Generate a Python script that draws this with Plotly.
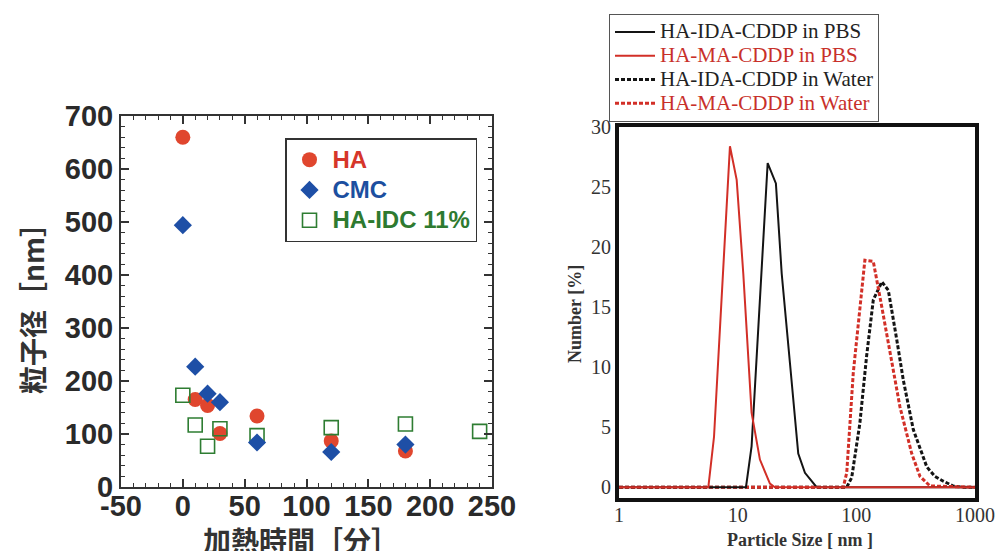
import plotly.graph_objects as go

# ---------------- Left panel data ----------------
time_ha = [0, 10, 20, 30, 60, 120, 180]
size_ha = [660, 165, 154, 101, 134, 87, 68]
time_cmc = [0, 10, 20, 30, 60, 120, 180]
size_cmc = [494, 227, 176, 160, 84, 66, 80]
time_idc = [0, 10, 20, 30, 60, 120, 180, 240]
size_idc = [173, 117, 77, 110, 97, 112, 119, 105]

left_xticks = [-50, 0, 50, 100, 150, 200, 250]
left_xlabels = ["-50", "0", "50", "100", "150", "200", "250"]
left_yticks = [0, 100, 200, 300, 400, 500, 600, 700]

# ---------------- Right panel data ----------------
ida_pbs_x = [1, 11.75, 13.1, 17.9, 21.0, 23.5, 27.6, 32.4, 36.9, 46.3, 1000]
ida_pbs_y = [0, 0, 3.4, 27.0, 25.3, 17.8, 10.3, 2.8, 1.2, 0, 0]
ma_pbs_x = [1, 5.66, 6.32, 8.61, 9.81, 11.15, 13.1, 15.4, 18.7, 20.6, 1000]
ma_pbs_y = [0, 0, 4.2, 28.4, 25.6, 17.8, 6.2, 2.3, 0.3, 0, 0]
ida_water_x = [1, 83, 91.4, 107, 122, 139, 164, 186, 219, 249, 302, 392, 460, 541, 656, 797, 1000]
ida_water_y = [0, 0, 0.8, 5.3, 10.9, 15.6, 17.1, 16.4, 12.3, 8.9, 4.8, 1.7, 0.9, 0.5, 0.1, 0, 0]
ma_water_x = [1, 77.6, 83, 94.2, 118, 139, 164, 192, 233, 293, 344, 418, 1000]
ma_water_y = [0, 0, 1.2, 9.5, 18.9, 18.8, 15.0, 11.4, 6.7, 2.8, 0.9, 0.1, 0]

right_xticks = [1, 10, 100, 1000]
right_yticks = [0, 5, 10, 15, 20, 25, 30]

RED_PT = "#e0462e"
BLUE_PT = "#1e4fa6"
GREEN_PT = "#2e7d32"
RED_LN = "#d22f27"
BLACK_LN = "#141414"

def styled(t, size, color=None):
    st = "font-size:%dpx;" % size
    if color:
        st += "color:" + color + ";"
    return "<span style='" + st + "'>" + t + "</span>"

fig = go.Figure()

# Left panel traces (draw order HA, HA-IDC, CMC)
fig.add_trace(go.Scatter(
    x=time_ha, y=size_ha, mode="markers", xaxis="x", yaxis="y",
    name=styled("HA", 24, "#d6362a"), legend="legend", legendrank=1,
    marker=dict(symbol="circle", size=15, color=RED_PT, line=dict(width=0))))
fig.add_trace(go.Scatter(
    x=time_idc, y=size_idc, mode="markers", xaxis="x", yaxis="y",
    name=styled("HA-IDC 11%", 24, "#2e7a30"), legend="legend", legendrank=3,
    marker=dict(symbol="square-open", size=14, color=GREEN_PT, line=dict(width=1.6, color=GREEN_PT))))
fig.add_trace(go.Scatter(
    x=time_cmc, y=size_cmc, mode="markers", xaxis="x", yaxis="y",
    name=styled("CMC", 24, "#1c4fa0"), legend="legend", legendrank=2,
    marker=dict(symbol="diamond", size=14, color=BLUE_PT, line=dict(width=0))))

# Right panel traces
fig.add_trace(go.Scatter(
    x=ida_water_x, y=ida_water_y, mode="lines", xaxis="x2", yaxis="y2",
    name=styled("HA-IDA-CDDP in Water", 21), legend="legend2", legendrank=3,
    line=dict(color=BLACK_LN, width=3, dash="4px,2px")))
fig.add_trace(go.Scatter(
    x=ma_water_x, y=ma_water_y, mode="lines", xaxis="x2", yaxis="y2",
    name=styled("HA-MA-CDDP in Water", 21, "#c8302a"), legend="legend2", legendrank=4,
    line=dict(color=RED_LN, width=3, dash="4px,2px")))
fig.add_trace(go.Scatter(
    x=ida_pbs_x, y=ida_pbs_y, mode="lines", xaxis="x2", yaxis="y2",
    name=styled("HA-IDA-CDDP in PBS", 21), legend="legend2", legendrank=1,
    line=dict(color=BLACK_LN, width=2)))
fig.add_trace(go.Scatter(
    x=ma_pbs_x, y=ma_pbs_y, mode="lines", xaxis="x2", yaxis="y2",
    name=styled("HA-MA-CDDP in PBS", 21, "#c8302a"), legend="legend2", legendrank=2,
    line=dict(color=RED_LN, width=2)))

W, H = 997, 551
def px(x):
    return x / W
def py(y):
    return 1 - y / H

left_tick_font = dict(family="Liberation Sans, Arial", size=29, color="#2a2a2a", weight="bold")
right_tick_font = dict(family="Liberation Serif, Times New Roman", size=20, color="#333333")

fig.update_layout(
    width=W, height=H,
    margin=dict(l=0, r=0, t=0, b=0, autoexpand=False),
    paper_bgcolor="white", plot_bgcolor="white",
    xaxis=dict(
        domain=[px(121), px(492)], range=[-50, 250], tickvals=left_xticks, ticktext=left_xlabels,
        showline=True, linecolor="#333", linewidth=2, mirror="ticks",
        ticks="inside", ticklen=8, tickwidth=1.5, tickcolor="#333",
        minor=dict(ticks="inside", ticklen=4, dtick=10, tickcolor="#333", tickwidth=1.2),
        showgrid=False, zeroline=False, tickfont=left_tick_font, anchor="y", automargin=False,
        ticklabelstandoff=-8),
    yaxis=dict(
        domain=[py(487), py(116)], range=[0, 700], tickvals=left_yticks,
        showline=True, linecolor="#333", linewidth=2, mirror="ticks",
        ticks="inside", ticklen=8, tickwidth=1.5, tickcolor="#333",
        minor=dict(ticks="inside", ticklen=4, dtick=20, tickcolor="#333", tickwidth=1.2),
        showgrid=False, zeroline=False, tickfont=left_tick_font, anchor="x", automargin=False),
    xaxis2=dict(
        domain=[px(619), px(975)], type="log", range=[0, 3], tickvals=right_xticks,
        ticktext=[str(v) for v in right_xticks],
        showline=True, linecolor="#111", linewidth=4, mirror=True,
        ticks="", showgrid=False, zeroline=False, tickfont=right_tick_font, anchor="y2",
        automargin=False, ticklabelstandoff=-4),
    yaxis2=dict(
        domain=[py(498), py(127)], range=[-0.9, 30], tickvals=right_yticks,
        showline=True, linecolor="#111", linewidth=4, mirror=True,
        ticks="", showgrid=False, zeroline=False, tickfont=right_tick_font, anchor="x2",
        automargin=False),
    legend=dict(
        x=px(285), y=py(138), xanchor="left", yanchor="top",
        bgcolor="white", bordercolor="#333", borderwidth=1.5,
        font=dict(family="Liberation Sans, Arial", size=21, weight="bold"),
        tracegroupgap=0, itemwidth=36),
    legend2=dict(
        x=px(609), y=py(14), xanchor="left", yanchor="top",
        bgcolor="white", bordercolor="#555", borderwidth=1,
        font=dict(family="Liberation Serif, Times New Roman", size=16, color="#222"),
        tracegroupgap=0, itemwidth=40),
    annotations=[
        dict(text="粒子径［nm］", x=px(32), y=py(302), xref="paper", yref="paper",
             textangle=-90, showarrow=False, xanchor="center", yanchor="middle",
             font=dict(family="Noto Sans CJK JP", size=28, color="#333", weight="bold")),
        dict(text="加熱時間［分］", x=px(301), y=py(540), xref="paper", yref="paper",
             showarrow=False, xanchor="center", yanchor="middle",
             font=dict(family="Noto Sans CJK JP", size=28, color="#333", weight="bold")),
        dict(text="Particle Size [ nm ]", x=px(800), y=py(540), xref="paper", yref="paper",
             showarrow=False, xanchor="center", yanchor="middle",
             font=dict(family="Liberation Serif, Times New Roman", size=18, color="#333", weight="bold")),
        dict(text="Number [%]", x=px(575), y=py(314), xref="paper", yref="paper",
             textangle=-90, showarrow=False, xanchor="center", yanchor="middle",
             font=dict(family="Liberation Serif, Times New Roman", size=18, color="#333", weight="bold")),
    ],
)

fig.write_html("out.html")
